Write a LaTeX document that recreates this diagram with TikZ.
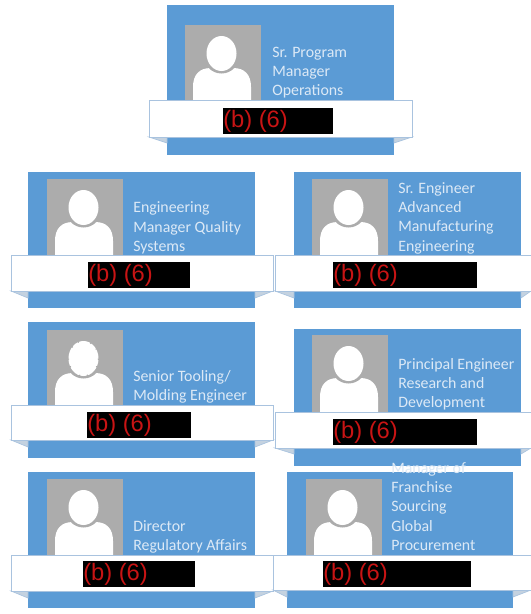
\documentclass[tikz,border=0pt]{standalone}
\usepackage{fontspec}
\setmainfont{Carlito}
\newfontfamily\redactfont{Liberation Sans}
\definecolor{cardblue}{HTML}{5B9BD5}
\definecolor{ribbonedge}{HTML}{A9C3DF}
\definecolor{foldblue}{HTML}{C4D2E0}
\definecolor{photogrey}{HTML}{ACACAC}
\definecolor{titletext}{HTML}{DCE9F6}
\definecolor{redactred}{HTML}{C81414}
\tikzset{
  x=0.75pt,y=-0.75pt,
  cardbox/.style={fill=cardblue,draw=none},
  photobox/.style={fill=photogrey,draw=none},
  person/.style={fill=white,draw=none},
  ribbonbox/.style={fill=white,draw=ribbonedge,line width=0.6pt},
  foldbox/.style={fill=foldblue,draw=ribbonedge,line width=0.5pt},
  blackbar/.style={fill=black,draw=none},
  title/.style={text=titletext,font=\fontsize{11.9pt}{14.5pt}\selectfont,anchor=north west,align=left,inner sep=0pt},
  redact/.style={text=redactred,font=\redactfont\fontsize{17.8pt}{20pt}\selectfont,anchor=west,inner sep=0pt},
}
% #1 card left, #2 card top, #3 card right, #4 card bottom, #5 photo left, #6 photo top
\newcommand{\cardshape}[6]{%
  \fill[cardbox] (#1,#2) rectangle (#3,#4);
  \fill[photobox] (#5,#6) rectangle ({#5+76},{#6+78});
  \fill[person] ({#5+8},{#6+78}) -- ({#5+8},{#6+62}) .. controls ({#5+8},{#6+50}) and ({#5+14},{#6+43}) .. ({#5+26},{#6+43})
     -- ({#5+48},{#6+43}) .. controls ({#5+60},{#6+43}) and ({#5+66},{#6+50}) .. ({#5+66},{#6+62}) -- ({#5+66},{#6+78}) -- cycle;
  \fill[photobox] ({#5+36.5},{#6+30}) circle[x radius=18,y radius=18.5];
  \fill[person] ({#5+36.5},{#6+28.5}) circle[x radius=15,y radius=17.5];
}
% #1 ribbon left, #2 top, #3 right, #4 bottom, #5 card left, #6 card right, #7 fold bottom
\newcommand{\ribbonband}[7]{%
  \path[foldbox] (#1,#4) -- (#5,#7) -- (#5,#4) -- cycle;
  \path[foldbox] (#3,#4) -- (#6,#7) -- (#6,#4) -- cycle;
  \path[ribbonbox] (#1,#2) rectangle (#3,#4);
}
\newcommand{\redactbar}[4]{%
  \fill[blackbar] (#1,#2) rectangle (#3,#4);
  \node[redact] at (#1,{(#2+#4)/2}) {(b) (6)};
}
\begin{document}
\begin{tikzpicture}
\useasboundingbox (0,0) rectangle (531,614);
\fill[white] (0,0) rectangle (531,614);

% Card 1
\cardshape{167}{5}{394}{155}{185}{25}
\node[title] (ta) at (272,46.5) {Sr. Program\\Manager\\Operations};
\ribbonband{149}{100}{412}{137}{167}{394}{143}
\redactbar{223}{108}{333}{134}

% Card 2
\cardshape{28}{172}{255}{308}{47}{179}
\node[title] (tb) at (133,201.5) {Engineering\\Manager Quality\\Systems};
\ribbonband{11}{255}{273}{291}{28}{255}{298}
\redactbar{88}{262}{190}{288}

% Card 3
\cardshape{294}{172}{521}{308}{312}{179}
\node[title] (tc) at (398,182) {Sr. Engineer\\Advanced\\Manufacturing\\Engineering};
\ribbonband{275}{255}{531}{291}{294}{521}{298}
\redactbar{333}{262}{477}{288}

% Card 4: the head edge is rough in this one
\cardshape{28}{322}{255}{458}{47}{330}
\draw[photogrey,line width=0.9pt,dash pattern=on 1pt off 5pt on 0.7pt off 9pt] (83.5,358.5) circle[x radius=15,y radius=17.5];
\node[title] (td) at (133,370) {Senior Tooling/\\Molding Engineer};
\ribbonband{11}{405}{273}{440}{28}{255}{447}
\redactbar{87}{412}{191}{438}

% Card 5
\cardshape{294}{329}{521}{466}{312}{335}
\node[title] (te) at (398,358) {Principal Engineer\\Research and\\Development};
\ribbonband{275}{412}{531}{448}{294}{521}{454}
\redactbar{333}{419}{477}{445}

% Card 6
\cardshape{28}{472}{255}{608}{47}{479}
\node[title] (tf) at (133,520) {Director\\Regulatory Affairs};
\ribbonband{11}{555}{273}{591}{28}{255}{598}
\redactbar{83}{561}{195}{587}

% Card 7
\cardshape{287}{472}{513}{608}{306}{479}
\node[title] (tg) at (391,462) {Manager of\\Franchise\\Sourcing\\Global\\Procurement};
\ribbonband{273}{555}{531}{590}{287}{513}{597}
\redactbar{323}{561}{471}{587}
\end{tikzpicture}
\end{document}
